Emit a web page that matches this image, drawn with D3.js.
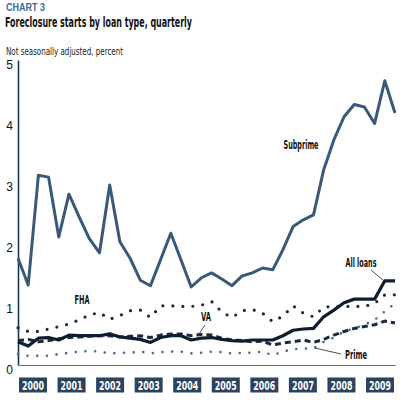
<!DOCTYPE html>
<html>
<head>
<meta charset="utf-8">
<script src="https://cdn.jsdelivr.net/npm/d3@7"></script>
<style>
  body { margin: 0; background: #fff; }
  svg { display: block; font-family: "Liberation Sans Narrow", "DejaVu Sans Condensed", "Liberation Sans", sans-serif; }
</style>
</head>
<body>
<script>

// years shown as boxes under the axis
var years = ["2000", "2001", "2002", "2003", "2004", "2005", "2006", "2007", "2008", "2009"]

// quarterly, 2000 Q1 .. 2009 Q2 (38 points), percent
var subprime = [1.75, 1.31, 3.11, 3.08, 2.10, 2.80, 2.43, 2.07, 1.84, 2.95,
  2.02, 1.75, 1.39, 1.30, 1.73, 2.16, 1.72, 1.28, 1.43, 1.51,
  1.41, 1.30, 1.46, 1.51, 1.59, 1.56, 1.89, 2.27, 2.38, 2.46,
  3.20, 3.69, 4.07, 4.27, 4.23, 3.96, 4.66, 4.13]
var allLoans = [0.38, 0.31, 0.44, 0.45, 0.41, 0.49, 0.48, 0.48, 0.48, 0.51,
  0.46, 0.44, 0.42, 0.37, 0.45, 0.48, 0.48, 0.41, 0.44, 0.45,
  0.42, 0.40, 0.39, 0.41, 0.41, 0.41, 0.48, 0.57, 0.59, 0.60,
  0.79, 0.90, 1.02, 1.08, 1.08, 1.08, 1.38, 1.38]
var fha = [0.61, 0.55, 0.55, 0.59, 0.63, 0.67, 0.74, 0.82, 0.86, 0.75,
  0.81, 0.89, 0.90, 0.78, 0.97, 0.97, 0.96, 0.96, 0.98, 1.04,
  0.87, 0.78, 0.89, 0.91, 0.85, 0.71, 0.80, 0.97, 0.85, 0.79,
  0.95, 0.96, 0.96, 0.96, 0.96, 1.01, 1.15, 1.15]
var va = [0.40, 0.42, 0.38, 0.40, 0.43, 0.45, 0.46, 0.47, 0.48, 0.48,
  0.46, 0.47, 0.48, 0.45, 0.49, 0.51, 0.51, 0.48, 0.50, 0.49,
  0.44, 0.41, 0.40, 0.38, 0.39, 0.33, 0.36, 0.38, 0.41, 0.37,
  0.42, 0.49, 0.55, 0.60, 0.63, 0.66, 0.72, 0.69]
var prime = [0.18, 0.15, 0.15, 0.15, 0.18, 0.20, 0.22, 0.23, 0.22, 0.19,
  0.20, 0.20, 0.22, 0.19, 0.21, 0.22, 0.22, 0.19, 0.20, 0.22,
  0.21, 0.19, 0.20, 0.20, 0.22, 0.16, 0.22, 0.26, 0.27, 0.27,
  0.38, 0.45, 0.55, 0.60, 0.66, 0.74, 0.88, 1.01]

var yTicks = [0, 1, 2, 3, 4, 5]

var width = 400, height = 400

var svg = d3.select("body").append("svg")
    .attr("width", width)
    .attr("height", height)

var x = d3.scaleLinear().domain([0, subprime.length - 1]).range([18, 395])
var y = d3.scaleLinear().domain([0, 5]).range([365, 60])
var xYear = d3.scalePoint().domain(years).range([33, 380])

// titles
svg.append("text")
    .attr("x", 6).attr("y", 11)
    .attr("font-family", "Liberation Sans, Arial, sans-serif")
    .attr("font-size", 10.5).attr("font-weight", "bold")
    .attr("fill", "#3d6c9e")
    .attr("textLength", 39).attr("lengthAdjust", "spacingAndGlyphs")
    .text("CHART 3")

svg.append("text")
    .attr("x", 5).attr("y", 27)
    .attr("font-size", 14).attr("font-weight", "bold")
    .attr("fill", "#111")
    .attr("textLength", 187).attr("lengthAdjust", "spacingAndGlyphs")
    .text("Foreclosure starts by loan type, quarterly")

svg.append("text")
    .attr("x", 6).attr("y", 55)
    .attr("font-size", 10)
    .attr("fill", "#222")
    .attr("textLength", 117).attr("lengthAdjust", "spacingAndGlyphs")
    .text("Not seasonally adjusted, percent")

// axes
var yAxis = svg.append("g")
    .attr("transform", "translate(18,0)")
    .call(d3.axisLeft(y).tickValues(yTicks).tickSize(0).tickPadding(5).tickFormat(d3.format("d")))
yAxis.select(".domain").attr("stroke", "#1f3550").attr("stroke-width", 1.6)
yAxis.selectAll("text")
    .attr("font-family", "Liberation Sans, Arial, sans-serif")
    .attr("font-size", 12).attr("fill", "#111")
    .attr("dy", "0.74em")

var xAxis = svg.append("g")
    .attr("transform", "translate(0,365)")
    .call(d3.axisBottom(x).tickValues([]).tickSizeOuter(0))
xAxis.select(".domain").attr("stroke", "#5d6d82").attr("stroke-width", 1)

// year boxes
var yearG = svg.selectAll(".year")
    .data(years)
  .enter().append("g")
    .attr("class", "year")
    .attr("transform", function(d) { return "translate(" + xYear(d) + ",385)" })

yearG.append("rect")
    .attr("x", -14).attr("y", -7.5)
    .attr("width", 28).attr("height", 15)
    .attr("fill", "#2b4261")

yearG.append("text")
    .attr("text-anchor", "middle")
    .attr("dy", "0.37em")
    .attr("font-size", 12.5).attr("font-weight", "bold")
    .attr("fill", "#fff")
    .attr("textLength", 22).attr("lengthAdjust", "spacingAndGlyphs")
    .text(function(d) { return d })

// lines
var line = d3.line()
    .x(function(d, i) { return x(i) })
    .y(function(d) { return y(d) })

var series = [
  { name: "Prime", values: prime, color: "#4a6a8f", width: 2.6, dash: "0 9.7", cap: "round" },
  { name: "VA", values: va, color: "#1b2a40", width: 3, dash: "6 4", cap: "butt" },
  { name: "FHA", values: fha, color: "#1b2a40", width: 3.2, dash: "0 10", cap: "round" },
  { name: "Subprime", values: subprime, color: "#3a5879", width: 3, dash: null, cap: "butt" },
  { name: "All loans", values: allLoans, color: "#0f1d31", width: 3.2, dash: null, cap: "butt" }
]

svg.selectAll(".series")
    .data(series)
  .enter().append("path")
    .attr("class", "series")
    .attr("d", function(d) { return line(d.values) })
    .attr("fill", "none")
    .attr("stroke", function(d) { return d.color })
    .attr("stroke-width", function(d) { return d.width })
    .attr("stroke-dasharray", function(d) { return d.dash })
    .attr("stroke-linecap", function(d) { return d.cap })
    .attr("stroke-linejoin", "round")

// labels
var labels = [
  { text: "Subprime", x: 301, y: 149, w: 35 },
  { text: "FHA", x: 82, y: 304, w: 15 },
  { text: "VA", x: 206, y: 321, w: 10 },
  { text: "All loans", x: 361, y: 267, w: 31 },
  { text: "Prime", x: 356, y: 359, w: 22 }
]

svg.selectAll(".label")
    .data(labels)
  .enter().append("text")
    .attr("class", "label")
    .attr("x", function(d) { return d.x - d.w / 2 })
    .attr("y", function(d) { return d.y })
    .attr("font-size", 11.5).attr("font-weight", "bold")
    .attr("fill", "#111")
    .attr("textLength", function(d) { return d.w })
    .attr("lengthAdjust", "spacingAndGlyphs")
    .text(function(d) { return d.text })

// leader lines
var leaders = [
  [[205, 325], [199, 334]],
  [[371, 270], [383, 280]],
  [[315, 348], [341, 354]]
]

svg.selectAll(".leader")
    .data(leaders)
  .enter().append("path")
    .attr("class", "leader")
    .attr("d", d3.line())
    .attr("stroke", "#222")
    .attr("stroke-width", 0.8)
    .attr("fill", "none")

</script>
</body>
</html>
